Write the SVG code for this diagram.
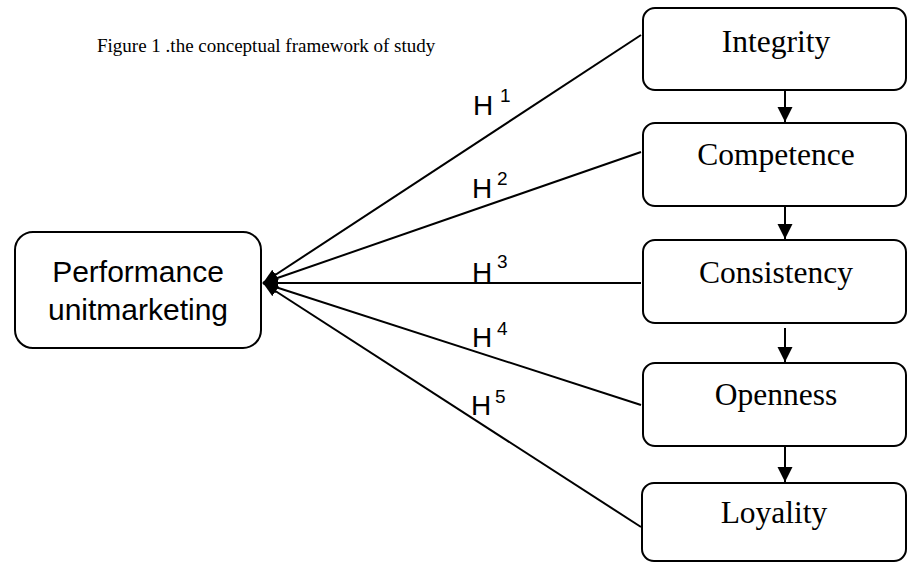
<svg xmlns="http://www.w3.org/2000/svg" width="908" height="563" viewBox="0 0 908 563">
<defs>
<style>
.box{fill:#fff;stroke:#000;stroke-width:2}
.lbl{font-family:"Liberation Serif","Times New Roman",serif;font-size:31.5px;fill:#000;text-anchor:middle}
.sans{font-family:"Liberation Sans",Arial,sans-serif;fill:#000}
.ln{stroke:#000;stroke-width:2;fill:none}
</style>
<marker id="ah" markerWidth="16" markerHeight="12" refX="15" refY="6" orient="auto" markerUnits="userSpaceOnUse">
<path d="M0,0 L15,6 L0,12 Z" fill="#000"/>
</marker>
<marker id="av" markerWidth="16" markerHeight="16" refX="15" refY="8" orient="auto" markerUnits="userSpaceOnUse">
<path d="M0,0.5 L15,8 L0,15.5 Z" fill="#000"/>
</marker>
</defs>
<rect width="908" height="563" fill="#fff"/>
<text x="97" y="52" font-family="'Liberation Serif','Times New Roman',serif" font-size="19" fill="#000">Figure 1 .the conceptual framework of study</text>
<g id="connectors">
<line class="ln" x1="641" y1="35" x2="263" y2="283" marker-end="url(#ah)"/>
<line class="ln" x1="641" y1="152" x2="263" y2="283" marker-end="url(#ah)"/>
<line class="ln" x1="641" y1="283" x2="263" y2="283" marker-end="url(#ah)"/>
<line class="ln" x1="641" y1="405" x2="263" y2="283" marker-end="url(#ah)"/>
<line class="ln" x1="641" y1="527" x2="263" y2="283" marker-end="url(#ah)"/>
<line class="ln" x1="785" y1="90" x2="785" y2="122" marker-end="url(#av)"/>
<line class="ln" x1="785" y1="206" x2="785" y2="239" marker-end="url(#av)"/>
<line class="ln" x1="785" y1="328" x2="785" y2="362" marker-end="url(#av)"/>
<line class="ln" x1="785" y1="446" x2="785" y2="482" marker-end="url(#av)"/>
<g class="sans">
<text x="473" y="115" font-size="28">H</text><text x="500" y="102" font-size="19">1</text>
<text x="472" y="198" font-size="28">H</text><text x="497" y="185" font-size="19">2</text>
<text x="472" y="282" font-size="28">H</text><text x="497" y="268" font-size="19">3</text>
<text x="472" y="347" font-size="28">H</text><text x="497" y="335" font-size="19">4</text>
<text x="471" y="415" font-size="28">H</text><text x="495" y="403" font-size="19">5</text>
</g>
</g>
<g id="performance">
<rect class="box" x="15" y="232" width="246" height="116" rx="18"/>
<text class="sans" x="138" y="282" font-size="30" text-anchor="middle">Performance</text>
<text class="sans" x="138" y="320" font-size="30" text-anchor="middle">unitmarketing</text>
</g>
<g id="integrity">
<rect class="box" x="643" y="8" width="263" height="82" rx="12"/>
<text class="lbl" x="776" y="52">Integrity</text>
</g>
<g id="competence">
<rect class="box" x="643" y="123" width="263" height="83" rx="12"/>
<text class="lbl" x="776" y="165">Competence</text>
</g>
<g id="consistency">
<rect class="box" x="643" y="240" width="263" height="83" rx="12"/>
<text class="lbl" x="776" y="283">Consistency</text>
</g>
<g id="openness">
<rect class="box" x="643" y="363" width="263" height="83" rx="12"/>
<text class="lbl" x="776" y="405">Openness</text>
</g>
<g id="loyality">
<rect class="box" x="642" y="483" width="264" height="78" rx="12"/>
<text class="lbl" x="774" y="523">Loyality</text>
</g>
</svg>
